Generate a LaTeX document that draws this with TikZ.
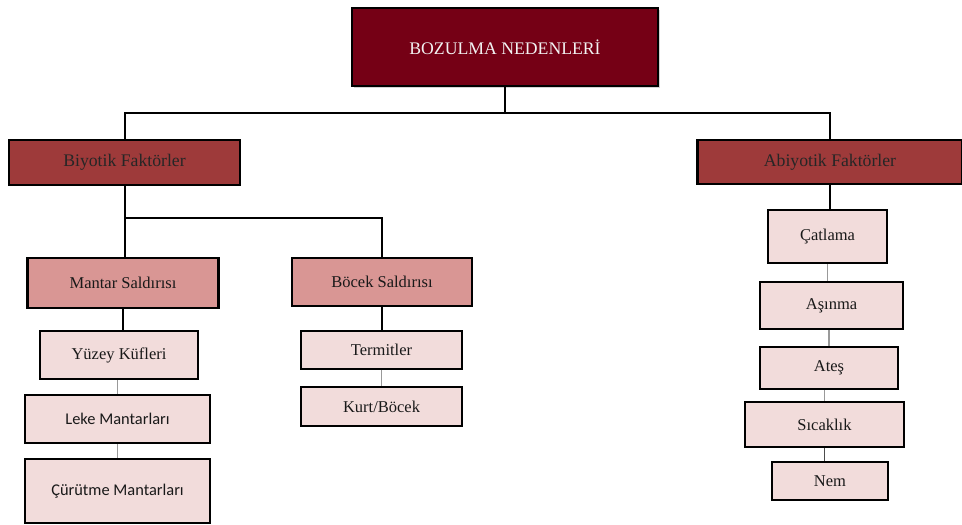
\documentclass[tikz,border=0pt]{standalone}
\usepackage{fontspec}
\setmainfont{Liberation Serif}
\newfontfamily\calib{Carlito}
\usetikzlibrary{shadows}
\definecolor{topred}{HTML}{750015}
\definecolor{midred}{HTML}{9E3A3A}
\definecolor{pinkA}{HTML}{D99694}
\definecolor{pinkB}{HTML}{F2DCDB}
\tikzset{
  box/.style={draw=black, line width=2.5pt, rectangle, inner sep=0pt, align=center, font=\fontsize{16.5}{19}\selectfont, text=black!90},
  topbox/.style={box, fill=topred, text=white!95!black, font=\fontsize{17.7}{21}\selectfont, drop shadow={shadow xshift=2pt, shadow yshift=-2pt, opacity=0.35}},
  lvlone/.style={box, fill=midred, text=black!85, font=\fontsize{17.7}{21}\selectfont},
  lvltwo/.style={box, fill=pinkA},
  leaf/.style={box, fill=pinkB},
  sansleaf/.style={leaf, font=\calib\fontsize{16.4}{19}\selectfont},
  conn/.style={draw=black, line width=2pt},
  thinconn/.style={draw=black!40, line width=1.2pt},
}
\begin{document}
\begin{tikzpicture}[x=1pt,y=-1pt]
\useasboundingbox (0,0) rectangle (962,525);
\node[topbox, minimum width=306pt, minimum height=78pt] (top) at (505,47) {BOZULMA NEDENLERİ};
\node[lvlone, minimum width=231pt, minimum height=45pt] (bio) at (124.5,162.5) {Biyotik Faktörler};
\node[lvlone, minimum width=265pt, minimum height=44pt] (abio) at (830,162) {Abiyotik Faktörler};
\node[lvltwo, minimum width=191pt, minimum height=50pt] (mantar) at (123,283) {Mantar Saldırısı};
\node[lvltwo, minimum width=180pt, minimum height=48pt] (bocek) at (382,282) {Böcek Saldırısı};
\node[leaf, minimum width=158pt, minimum height=48pt] (yuzey) at (119,355) {Yüzey Küfleri};
\node[sansleaf, minimum width=185pt, minimum height=48pt] (leke) at (117.5,419) {Leke Mantarları};
\node[sansleaf, minimum width=185pt, minimum height=64pt] (curutme) at (117.5,491) {Çürütme Mantarları};
\node[leaf, minimum width=161pt, minimum height=38pt] (termit) at (381.5,350) {Termitler};
\node[leaf, minimum width=161pt, minimum height=39pt] (kurt) at (381.5,406.5) {Kurt/Böcek};
\node[leaf, minimum width=119pt, minimum height=53pt] (catlama) at (827.5,236.5) {Çatlama};
\node[leaf, minimum width=143pt, minimum height=47pt] (asinma) at (831.5,305.5) {Aşınma};
\node[leaf, minimum width=138pt, minimum height=42pt] (ates) at (829,368) {Ateş};
\node[leaf, minimum width=159pt, minimum height=45pt] (sicaklik) at (824.5,424.5) {Sıcaklık};
\node[leaf, minimum width=116pt, minimum height=38pt] (nem) at (830,481) {Nem};
\coordinate (bus) at (0,113);
\coordinate (bus2) at (0,218);
\draw[conn] (top.south) -- (top.south |- bus);
\draw[conn] (bio.north) -- (bio.north |- bus) -- (abio.north |- bus) -- (abio.north);
\draw[conn] (bio.south) -- (bio.south |- bus2) -| (bocek.north);
\draw[conn] (bio.south |- bus2) -- (bio.south |- mantar.north);
\draw[conn] (mantar.south) -- (mantar.south |- yuzey.north);
\draw[thinconn] (yuzey.south -| leke.north) -- (leke.north);
\draw[thinconn] (leke.south) -- (curutme.north);
\draw[conn] (bocek.south) -- (bocek.south |- termit.north);
\draw[thinconn] (termit.south) -- (kurt.north);
\draw[conn, line width=1.2pt] (abio.south) -- (abio.south |- catlama.north);
\draw[thinconn] (catlama.south) -- (catlama.south |- asinma.north);
\draw[thinconn] (asinma.south -| ates.north) -- (ates.north);
\draw[thinconn] (ates.south -| sicaklik.north) -- (sicaklik.north);
\draw[thinconn, draw=black!70] (sicaklik.south) -- (sicaklik.south |- nem.north);
\end{tikzpicture}
\end{document}
